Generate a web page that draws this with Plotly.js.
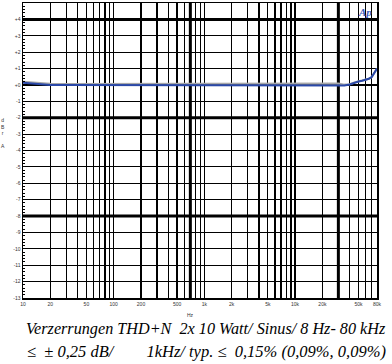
<!DOCTYPE html>
<html><head><meta charset="utf-8">
<script src="https://cdn.plot.ly/plotly-3.0.1.min.js"></script>
<style>html,body{margin:0;padding:0;background:#fff}#c{width:392px;height:364px}</style>
</head><body><div id="c"></div>
<script>
// Frequency (Hz)
const freqs = [10, 12, 15, 17, 20, 30, 50, 100, 200, 500, 1000, 2000, 5000, 10000, 20000, 25000, 30000, 35000, 40000, 45000, 50000, 55000, 60000, 65000, 70000, 75000, 80000];
// Channel A (blue), dBr
const chanA = [0.14, 0.10, 0.05, 0.01, 0, 0, 0, 0, 0, 0, 0, 0, 0, 0, 0, -0.01, -0.02, -0.04, 0.03, 0.15, 0.21, 0.26, 0.31, 0.38, 0.48, 0.72, 1.0];
// Channel B (grey), dBr
const chanB = [0.2, 0.16, 0.11, 0.09, 0.08, 0.06, 0.06, 0.06, 0.06, 0.06, 0.06, 0.06, 0.07, 0.08, 0.09, 0.09, 0.09, 0.02, 0.04, 0.15, 0.21, 0.26, 0.31, 0.38, 0.48, 0.72, 1.0];

// X tick labels
const xLabelVals = [10, 20, 50, 100, 200, 500, 1000, 2000, 5000, 10000, 20000, 50000, 80000];
const xLabelText = ['10', '20', '50', '100', '200', '500', '1k', '2k', '5k', '10k', '20k', '50k', '80k'];
// Left axis (dBr)
const yLeftVals = [5, 4, 3, 2, 1, 0, -1, -2, -3, -4, -5, -6, -7, -8, -9, -10, -11, -12, -13];
const yLeftText = ['+5', '+4', '+3', '+2', '+1', '+0', '-1', '-2', '-3', '-4', '-5', '-6', '-7', '-8', '-9', '-10', '-11', '-12', '-13'];
// Right axis (%)
const yRightVals = [0.01, 0.02, 0.05, 0.1, 0.2, 0.5, 1, 2, 5, 10];
const yRightText = ['0.01', '0.02', '0.05', '0.1', '0.2', '0.5', '1', '2', '5', '10'];
// Heavy grid lines
const heavyX = [700, 30000];
const heavyY = [4, -2, -8];

const titleLine1 = 'Verzerrungen THD+N  2x 10 Watt/ Sinus/ 8 Hz- 80 kHz';
const titleLine2 = '\u2264  \u00b1 0,25 dB/        1kHz/ typ. \u2264  0,15% (0,09%, 0,09%)';

// grid freqs: every 1..9 multiple
const gridX = [];
for (let d = 10; d <= 10000; d *= 10) for (let m = 1; m <= 9; m++) { const v = m * d; if (v <= 80000) gridX.push(v); }
const gridXText = gridX.map(v => { const i = xLabelVals.indexOf(v); return i >= 0 ? xLabelText[i] : ''; });
const allX = gridX.slice(); if (allX.indexOf(80000) < 0) { allX.push(80000); gridXText.push('80k'); }

const minorRight = [];
for (let d = 0.01; d < 10; d *= 10) [3, 4, 6, 7, 8, 9].forEach(m => minorRight.push(+(m * d).toPrecision(3)));

const xr = [1, Math.log10(80000)];
const yr = [-13, 5];
const tf = {family: 'Arial, Liberation Sans, sans-serif', size: 5, color: '#333'};

const shapes = [];
heavyX.forEach(v => shapes.push({type: 'line', xref: 'x', yref: 'paper', x0: v, x1: v, y0: 0, y1: 1, line: {color: '#000', width: 3}, layer: 'below'}));
heavyY.forEach(v => shapes.push({type: 'line', xref: 'paper', yref: 'y', x0: 0, x1: 1, y0: v, y1: v, line: {color: '#000', width: 3}, layer: 'below'}));

const data = [
  {x: freqs, y: chanB, type: 'scatter', mode: 'lines', line: {color: '#a8a8a8', width: 2}, hoverinfo: 'skip'},
  {x: freqs, y: chanA, type: 'scatter', mode: 'lines', line: {color: '#2a48a8', width: 2}, hoverinfo: 'skip'}
];

const layout = {
  width: 392, height: 364,
  margin: {l: 23, r: 15, t: 3, b: 66},
  paper_bgcolor: '#fff', plot_bgcolor: '#fff',
  showlegend: false,
  shapes: shapes,
  xaxis: {type: 'log', range: xr, tickmode: 'array', tickvals: allX, ticktext: gridXText,
    showgrid: true, gridcolor: '#000', gridwidth: 1.2, zeroline: false,
    showline: true, linecolor: '#000', linewidth: 1.5, mirror: true,
    ticks: 'inside', ticklen: 3, tickcolor: '#000', tickfont: tf, ticklabelstandoff: 0},
  yaxis: {range: yr, tickmode: 'array', tickvals: yLeftVals, ticktext: yLeftText,
    showgrid: true, gridcolor: '#000', gridwidth: 1.2, zeroline: false,
    showline: true, linecolor: '#000', linewidth: 1.5, mirror: true,
    ticks: 'inside', ticklen: 4, tickcolor: '#000', tickfont: tf,
    minor: {dtick: 0.2, ticks: 'inside', ticklen: 2, tickcolor: '#000', showgrid: false}},
  yaxis2: {type: 'log', range: [-2, 1], overlaying: 'y', side: 'right', anchor: 'x',
    tickmode: 'array', tickvals: yRightVals, ticktext: yRightText, showgrid: false, zeroline: false,
    ticks: 'outside', ticklen: 3, tickcolor: '#000', tickfont: tf, showline: false,
    minor: {tickmode: 'array', tickvals: minorRight, ticks: 'outside', ticklen: 2, tickcolor: '#000'}},
  annotations: [
    {text: 'Hz', xref: 'paper', yref: 'paper', x: 0.474, y: -0.04, showarrow: false, font: tf, xanchor: 'center', yanchor: 'top'},
    {text: 'd<br>B<br>r<br> <br>A', xref: 'paper', yref: 'paper', x: -0.045, y: 0.56, showarrow: false, font: {family: 'Arial, Liberation Sans, sans-serif', size: 5, color: '#333'}, xanchor: 'right', yanchor: 'middle'},
    {text: '<i><b>Ap</b></i>', xref: 'paper', yref: 'paper', x: 0.965, y: 0.995, showarrow: false, font: {family: 'Liberation Serif, serif', size: 11, color: '#3a5ab8'}, xanchor: 'center', yanchor: 'top'},
    {text: '<i>' + titleLine1 + '</i>', xref: 'paper', yref: 'paper', x: 1.03, y: -0.068, showarrow: false, font: {family: 'Liberation Serif, serif', size: 16.2, color: '#000'}, xanchor: 'right', yanchor: 'top'},
    {text: '<i>' + titleLine2 + '</i>', xref: 'paper', yref: 'paper', x: 1.03, y: -0.143, showarrow: false, font: {family: 'Liberation Serif, serif', size: 16.5, color: '#000'}, xanchor: 'right', yanchor: 'top'}
  ]
};

Plotly.newPlot('c', data, layout, {staticPlot: true, displayModeBar: false});
</script></body></html>
